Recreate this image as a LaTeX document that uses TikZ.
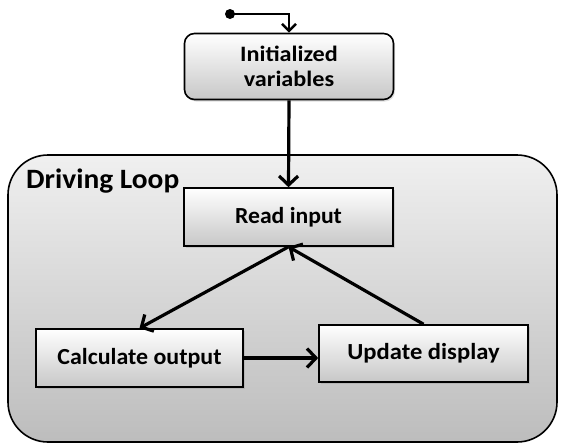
\documentclass[tikz,border=0pt]{standalone}
\usepackage{fontspec}
\setmainfont{Carlito}
\usetikzlibrary{arrows.meta,shadows}
\tikzset{
  box/.style={draw=black, line width=1.6pt, top color=white, bottom color=black!22,
    minimum width=209pt, minimum height=58pt, align=center,
    font=\bfseries\fontsize{23}{25}\selectfont, inner sep=2pt,
    drop shadow={shadow xshift=1.5pt, shadow yshift=-2pt, opacity=0.25}},
  flow/.style={line width=3.2pt, -{Straight Barb[length=9pt,width=19pt,line width=3.2pt]}},
  loopbox/.style={draw=black, line width=1.6pt, rounded corners=40pt,
    top color=black!6, bottom color=black!26, minimum width=549pt, minimum height=287pt}
}
\begin{document}
\begin{tikzpicture}[x=1pt,y=-1pt]
\useasboundingbox (0,0) rectangle (565,445);
% outer loop region
\node[loopbox] (loop) at (282.5,298.5) {};
\node[anchor=base west, font=\bfseries\fontsize{28}{30}\selectfont, inner sep=0pt] (looplabel) at (26,188) {\scalebox{1.05}[1]{Driving Loop}};
% steps
\node[box, rounded corners=10pt, minimum width=209pt, minimum height=66pt,
  font=\bfseries\fontsize{22}{25}\selectfont] (init) at (289,66.5) {\scalebox{1.1}[1]{Initialized}\\\scalebox{1.1}[1]{variables}};
\node[box] (read) at (288.5,217) {\scalebox{1.03}[1]{Read input}};
\node[box, minimum width=207pt] (calc) at (139.5,358) {\scalebox{1.04}[1]{Calculate output}};
\node[box, minimum height=57pt] (upd) at (423.5,353.5) {\scalebox{1.07}[1]{Update display}};
% entry point
\coordinate (start) at (230,14);
\fill (start) circle (5pt);
\draw[flow, line width=2.8pt, -{Straight Barb[length=7pt,width=14pt,line width=2.6pt]}]
  (start) -- (init.north |- start) -- (init.north);
% connectors
\draw[flow] (init.south) -- (read.north);
\draw[flow] (read.south) -- (calc.north);
\draw[flow] (upd.north) -- (read.south);
\draw[flow] (calc.east) -- (calc.east -| upd.west);
\end{tikzpicture}
\end{document}
